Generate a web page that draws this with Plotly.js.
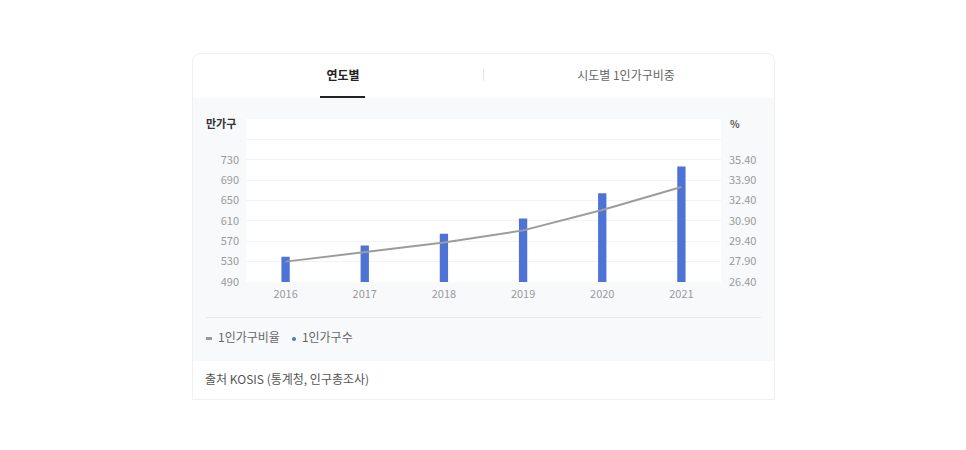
<!DOCTYPE html>
<html>
<head>
<meta charset="utf-8">
<script src="https://cdn.plot.ly/plotly-3.0.1.min.js"></script>
<style>
  body { margin: 0; background: #fff; font-family: "Noto Sans CJK KR", "Noto Sans", sans-serif; }
  .card { position: absolute; left: 192px; top: 53px; width: 581px; height: 345px;
          border: 1px solid #f0f0f0; border-radius: 8px 8px 0 0; background: #fff; overflow: hidden; }
  .tab { position: absolute; top: 12px; font-size: 12px; line-height: 18px; }
  .tab.on { left: 128px; width: 44px; text-align: center; color: #222; font-weight: bold; }
  .tab.off { left: 360px; width: 146px; text-align: center; color: #666; }
  .underline { position: absolute; left: 127px; top: 42px; width: 45px; height: 2px; background: #222; }
  .divider { position: absolute; left: 290px; top: 15px; width: 1px; height: 12px; background: #e6e6e6; }
  .grey { position: absolute; left: 0; top: 44px; width: 581px; height: 263px; background: #f8f9fb; }
  #chart { position: absolute; left: 0; top: 0; width: 581px; height: 213px; }
  .sep { position: absolute; left: 13px; top: 219px; width: 555px; height: 1px; background: #e8eaee; }
  .legend { position: absolute; left: 13px; top: 230px; font-size: 12px; color: #666; line-height: 18px; }
  .legend span { margin-right: 12px; }
  .dash { display: inline-block; width: 6px; height: 3px; background: #999; vertical-align: middle; margin-right: 6px; }
  .dot { display: inline-block; width: 4px; height: 4px; border-radius: 2px; background: #4e73d7; vertical-align: middle; margin-right: 6px; }
  .foot { position: absolute; left: 12px; top: 316px; font-size: 12px; color: #555; line-height: 18px; }
</style>
</head>
<body>
<div class="card">
  <div class="tab on">연도별</div>
  <div class="divider"></div>
  <div class="tab off">시도별 1인가구비중</div>
  <div class="underline"></div>
  <div class="grey">
    <div id="chart"></div>
    <div class="sep"></div>
    <div class="legend" id="legend"></div>
  </div>
  <div class="foot">출처 KOSIS (통계청, 인구총조사)</div>
</div>
<script>
// 연도별 1인가구 수(만가구)와 비율(%)
var years = ['2016', '2017', '2018', '2019', '2020', '2021'];
var households = [539.8, 561.9, 584.9, 614.8, 664.3, 716.6];
var ratio = [27.9, 28.6, 29.3, 30.2, 31.7, 33.4];

var leftTicks = [490, 530, 570, 610, 650, 690, 730, 770];
var leftLabels = ['490', '530', '570', '610', '650', '690', '730', ''];
var rightTicks = [26.4, 27.9, 29.4, 30.9, 32.4, 33.9, 35.4, 36.9];
var rightLabels = ['26.40', '27.90', '29.40', '30.90', '32.40', '33.90', '35.40', ''];

var names = ['1인가구비율', '1인가구수'];

document.getElementById('legend').innerHTML =
  '<span><i class="dash"></i>' + names[0] + '</span>' +
  '<span><i class="dot"></i>' + names[1] + '</span>';

var data = [
  {
    type: 'bar',
    name: names[1],
    x: years,
    y: households,
    marker: { color: '#4e73d7' },
    hoverinfo: 'x+y'
  },
  {
    type: 'scatter',
    mode: 'lines',
    name: names[0],
    x: years,
    y: ratio,
    yaxis: 'y2',
    line: { color: '#9c9c9c', width: 2 },
    hoverinfo: 'x+y'
  }
];

var tickFont = { family: 'Noto Sans CJK KR, Noto Sans, sans-serif', size: 11, color: '#9a9a9a' };

var layout = {
  width: 581,
  height: 213,
  margin: { t: 21, r: 53, l: 53, b: 29 },
  paper_bgcolor: '#f8f9fb',
  plot_bgcolor: '#ffffff',
  showlegend: false,
  bargap: 0.895,
  font: { family: 'Noto Sans CJK KR, Noto Sans, sans-serif' },
  xaxis: {
    type: 'category',
    showgrid: false,
    zeroline: false,
    showline: false,
    ticks: '',
    tickfont: tickFont,
    ticklabelstandoff: 4
  },
  yaxis: {
    range: [490, 810],
    tickvals: leftTicks,
    ticktext: leftLabels,
    showgrid: true,
    gridcolor: '#f2f3f5',
    gridwidth: 1,
    zeroline: false,
    showline: false,
    ticks: '',
    tickfont: tickFont,
    ticklabelstandoff: 6
  },
  yaxis2: {
    overlaying: 'y',
    side: 'right',
    range: [26.4, 38.4],
    tickvals: rightTicks,
    ticktext: rightLabels,
    showgrid: false,
    zeroline: false,
    showline: false,
    ticks: '',
    tickfont: tickFont,
    ticklabelstandoff: 7
  },
  annotations: [
    { text: '<b>만가구</b>', xref: 'paper', yref: 'paper', x: 0, y: 1, xanchor: 'right', yanchor: 'middle',
      xshift: -8, yshift: -4, showarrow: false, font: { size: 11, color: '#333' } },
    { text: '<b>%</b>', xref: 'paper', yref: 'paper', x: 1, y: 1, xanchor: 'left', yanchor: 'middle',
      xshift: 7, yshift: -4, showarrow: false, font: { size: 10, color: '#555' } }
  ]
};

Plotly.newPlot('chart', data, layout, { displayModeBar: false, staticPlot: true });
</script>
</body>
</html>
